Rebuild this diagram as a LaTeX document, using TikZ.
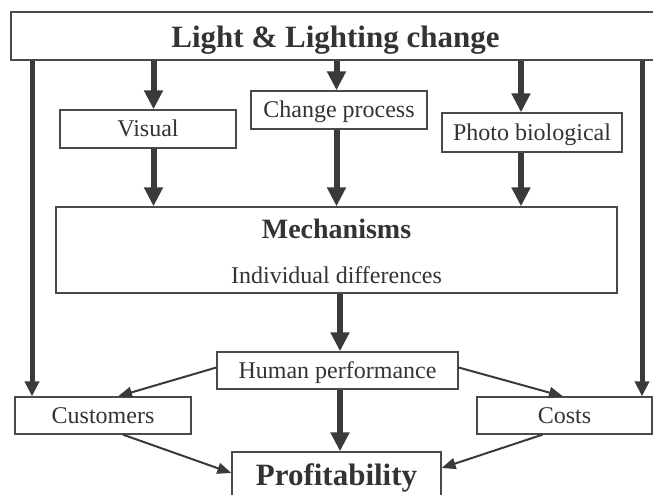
\documentclass[tikz,border=0pt]{standalone}
\usepackage{fontspec}
\setmainfont{Liberation Serif}
\usetikzlibrary{arrows.meta,positioning}
\definecolor{linegray}{HTML}{3A3A3A}
\definecolor{boxgray}{HTML}{4A4A4A}
\definecolor{txtgray}{HTML}{333333}

\begin{document}
\begin{tikzpicture}[
  x=1pt, y=-1pt,
  box/.style={rectangle, draw=boxgray, line width=1.3pt, fill=white, inner sep=0pt,
              text=txtgray, font=\fontsize{24}{28}\selectfont,
              text height=17pt, text depth=2pt},
  bigbox/.style={box, font=\fontsize{31}{36}\selectfont\bfseries},
  arr/.style={-{Triangle[width=18pt,length=19pt]}, line width=6pt, draw=linegray},
  sidearr/.style={-{Triangle[width=14pt,length=15pt]}, line width=5pt, draw=linegray},
  tarr/.style={-{Triangle[width=11pt,length=14pt]}, line width=2pt, draw=linegray},
]
\useasboundingbox (0,0) rectangle (653,495);

% Top level
\node[bigbox, minimum width=649pt, minimum height=48pt,
      text height=29pt, text depth=5pt] (light) at (335.5,36) {Light \& Lighting change};

% Three routes
\node[box, minimum width=176pt, minimum height=38pt] (vis) at (148,129) {Visual};
\node[box, minimum width=176pt, minimum height=38pt] (chg) at (339,110) {Change process};
\node[box, minimum width=180pt, minimum height=39pt] (photo) at (532,132.5) {Photo biological};

% Mechanisms
\node[box, minimum width=561pt, minimum height=86pt] (mech) at (336.5,250) {};
\node[anchor=base, text=txtgray, font=\fontsize{28}{32}\selectfont\bfseries]
      (mechname) at ([yshift=12pt]mech.center) {Mechanisms};
\node[anchor=base, text=txtgray, font=\fontsize{24}{28}\selectfont]
      (indiv) at ([yshift=-33pt]mech.center) {Individual differences};

% Outcomes
\node[box, minimum width=241pt, minimum height=37pt] (hum) at (337.5,370.5) {Human performance};
\node[box, minimum width=176pt, minimum height=37pt] (cust) at (103,415.5) {Customers};
\node[box, minimum width=175pt, minimum height=37pt] (cost) at (564.5,415.5) {Costs};
\node[bigbox, minimum width=209pt, minimum height=48pt,
      text height=24pt, text depth=6pt] (prof) at (336.5,476) {Profitability};

% Arrow columns
\coordinate (c1) at (153.5,0);
\coordinate (c2) at (336.5,0);
\coordinate (c3) at (521,0);
\coordinate (c4) at (340,0);
\coordinate (cl) at (32,0);
\coordinate (cr) at (642,0);

% Light to routes
\draw[arr] (light.south -| c1) -- (vis.north -| c1);
\draw[arr] (light.south -| c2) -- (chg.north -| c2);
\draw[arr] (light.south -| c3) -- (photo.north -| c3);

% Routes to mechanisms
\draw[arr] (vis.south -| c1) -- (mech.north -| c1);
\draw[arr] (chg.south -| c2) -- (mech.north -| c2);
\draw[arr] (photo.south -| c3) -- (mech.north -| c3);

% Mechanisms to performance to profit
\draw[arr] (mech.south -| c4) -- (hum.north -| c4);
\draw[arr] (hum.south -| c4) -- (prof.north -| c4);

% Direct side links
\draw[sidearr] (light.south -| cl) -- (cust.north -| cl);
\draw[sidearr] (light.south -| cr) -- (cost.north -| cr);

% Thin links
\draw[tarr] ([yshift=3pt]hum.west) -- ([xshift=15pt]cust.north);
\draw[tarr] ([yshift=3pt]hum.east) -- ([xshift=-1.5pt]cost.north);
\draw[tarr] ([xshift=20pt]cust.south) -- ([yshift=3pt]prof.west);
\draw[tarr] ([xshift=-22pt]cost.south) -- ([yshift=8pt]prof.east);

\end{tikzpicture}
\end{document}
